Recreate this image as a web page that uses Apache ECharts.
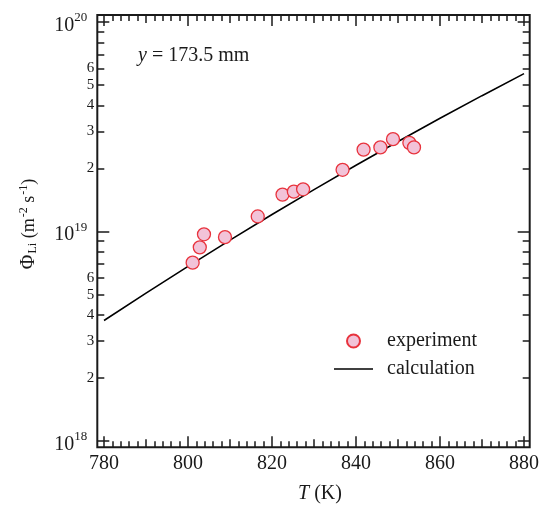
<!DOCTYPE html>
<html>
<head>
<meta charset="utf-8">
<script src="https://cdn.jsdelivr.net/npm/echarts@6/dist/echarts.min.js"></script>
<style>
  html, body { margin: 0; padding: 0; background: #ffffff; }
  #chart { width: 539px; height: 506px; }
</style>
</head>
<body>
<div id="chart"></div>
<script>
// Measured Li flux versus temperature
const expT = [801.1, 802.8, 803.8, 808.8, 816.6, 822.5, 825.2, 827.4, 836.8, 841.8, 845.8, 848.8, 852.7, 853.8];
const expFlux = [7.1e18, 8.4e18, 9.7e18, 9.4e18, 1.18e19, 1.50e19, 1.55e19, 1.59e19, 1.97e19, 2.46e19, 2.52e19, 2.76e19, 2.65e19, 2.52e19];

// Calculated Li flux
const calcT = [780, 790, 800, 810, 820, 830, 840, 850, 860, 870, 880];
const calcFlux = [3.76e18, 5.08e18, 6.82e18, 9.10e18, 1.205e19, 1.585e19, 2.07e19, 2.69e19, 3.47e19, 4.45e19, 5.67e19];

// Axis ticks and labels
const xTickLabels = [780, 800, 820, 840, 860, 880];
const yDecades = [18, 19, 20];
const yLabeledMantissas = [2, 3, 4, 5, 6];
const yMinorMantissas = [2, 3, 4, 5, 6, 7, 8, 9];

const seriesNames = ['experiment', 'calculation'];

const X_MIN = 778.4, X_MAX = 881.35;
const Y_MIN = Math.pow(10, 17.970), Y_MAX = Math.pow(10, 20.0334);

const FONT = "'Liberation Serif', 'Times New Roman', serif";
const INK = '#1a1a1a';

// tick positions for the three x tick levels
const xMajor = xTickLabels.slice();
const xMedium = xTickLabels.slice(0, -1).map(v => v + 10);
const xMinor = [];
for (let t = xTickLabels[0]; t <= xTickLabels[xTickLabels.length - 1]; t += 2) {
  if (t % 10 !== 0) xMinor.push(t);
}
// log axis tick positions
const yMajor = yDecades.map(d => Math.pow(10, d));
const yMinor = [];
const yLabelVals = yMajor.slice();
yDecades.slice(0, -1).forEach(d => {
  yMinorMantissas.forEach(m => yMinor.push(m * Math.pow(10, d)));
  yLabeledMantissas.forEach(m => yLabelVals.push(m * Math.pow(10, d)));
});

function yLabel(v) {
  const e = Math.floor(Math.log10(v) + 1e-9);
  const m = Math.round(v / Math.pow(10, e));
  if (m === 1) return '{b|10}{s|' + e + '}';
  return '{m|' + m + '}';
}

const gridBox = { left: 97.3, right: 9.3, top: 15, bottom: 58.7, outerBoundsMode: 'none' };

function xAxisDef(grid, pos, ticks, len, labels) {
  return {
    type: 'value', gridIndex: grid, position: pos, min: X_MIN, max: X_MAX,
    axisLine: { show: false }, splitLine: { show: false },
    axisTick: { show: true, inside: true, length: len, customValues: ticks,
      lineStyle: { color: INK, width: 1.5 } },
    axisLabel: labels ? {
      show: true, customValues: labels, margin: 6, color: INK,
      fontFamily: FONT, fontSize: 20
    } : { show: false }
  };
}

function yAxisDef(grid, pos, ticks, len, labels) {
  return {
    type: 'log', logBase: 10, gridIndex: grid, position: pos, min: Y_MIN, max: Y_MAX,
    axisLine: { show: false }, splitLine: { show: false }, minorTick: { show: false },
    axisTick: ticks ? { show: true, inside: true, length: len, customValues: ticks,
      lineStyle: { color: INK, width: 1.5 } } : { show: false },
    axisLabel: labels ? {
      show: true, customValues: labels, margin: 3, color: INK,
      formatter: yLabel,
      rich: {
        b: { fontFamily: FONT, fontSize: 20, color: INK, padding: [7, 0, 0, 0], verticalAlign: 'middle' },
        s: { fontFamily: FONT, fontSize: 13, color: INK, padding: [0, 7, 8, 0], verticalAlign: 'middle' },
        m: { fontFamily: FONT, fontSize: 15, color: INK, verticalAlign: 'middle' }
      }
    } : { show: false }
  };
}

const chart = echarts.init(document.getElementById('chart'), null, { renderer: 'canvas' });

chart.setOption({
  animation: false,
  backgroundColor: '#ffffff',
  grid: [
    Object.assign({ show: true, borderColor: INK, borderWidth: 2, backgroundColor: 'transparent' }, gridBox),
    Object.assign({ show: false }, gridBox),
    Object.assign({ show: false }, gridBox)
  ],
  xAxis: [
    xAxisDef(0, 'bottom', xMajor, 11, xTickLabels),
    xAxisDef(0, 'top', xMajor, 11, null),
    xAxisDef(1, 'bottom', xMedium, 8, null),
    xAxisDef(1, 'top', xMedium, 8, null),
    xAxisDef(2, 'bottom', xMinor, 6, null),
    xAxisDef(2, 'top', xMinor, 6, null)
  ],
  yAxis: [
    yAxisDef(0, 'left', yMajor, 12, yLabelVals),
    yAxisDef(0, 'right', yMajor, 12, null),
    yAxisDef(1, 'left', yMinor, 7, null),
    yAxisDef(1, 'right', yMinor, 7, null),
    yAxisDef(2, 'left', null, 0, null),
    yAxisDef(2, 'right', null, 0, null)
  ],
  legend: {
    orient: 'vertical', left: 334, top: 331, padding: 0,
    itemWidth: 39, itemHeight: 13, itemGap: 8,
    symbolKeepAspect: true,
    data: [
      { name: seriesNames[0], icon: 'circle' },
      { name: seriesNames[1], icon: 'path://M0,0 L39,0 L39,1.6 L0,1.6 Z' }
    ],
    formatter: name => '{t|' + name + '}',
    textStyle: {
      color: INK, fontFamily: FONT, fontSize: 20,
      rich: { t: { fontFamily: FONT, fontSize: 20, color: INK, lineHeight: 20, padding: [0, 0, 0, 9] } }
    }
  },
  graphic: [
    {
      type: 'text', left: 138, top: 46, z: 10,
      style: {
        text: '{i|y} = 173.5 mm',
        fill: INK, font: '20px ' + FONT,
        rich: {
          i: { fontFamily: FONT, fontSize: 20, fontStyle: 'italic', fill: INK }
        }
      }
    },
    {
      type: 'text', x: 29, y: 224, rotation: Math.PI / 2, z: 10,
      style: {
        text: '{p|Φ}{sub|Li} (m{sup|-2} s{sup|-1})',
        align: 'center', verticalAlign: 'middle',
        fill: INK, font: '18px ' + FONT,
        rich: {
          p: { fontFamily: FONT, fontSize: 20, fill: INK, verticalAlign: 'middle' },
          sub: { fontFamily: FONT, fontSize: 12, fill: INK, padding: [8, 0, 0, 1], verticalAlign: 'middle' },
          sup: { fontFamily: FONT, fontSize: 12, fill: INK, padding: [0, 0, 10, 1], verticalAlign: 'middle' }
        }
      }
    },
    {
      type: 'text', x: 320, y: 494, z: 10,
      style: {
        text: '{i|T} (K)',
        align: 'center', verticalAlign: 'middle',
        fill: INK, font: '20px ' + FONT,
        rich: {
          i: { fontFamily: FONT, fontSize: 20, fontStyle: 'italic', fill: INK }
        }
      }
    }
  ],
  series: [
    {
      name: seriesNames[0], type: 'scatter', xAxisIndex: 0, yAxisIndex: 0,
      symbol: 'circle', symbolSize: 13, z: 4,
      itemStyle: { color: '#f2c3d8', borderColor: '#e8333d', borderWidth: 1.3, opacity: 1 },
      data: expT.map((t, i) => [t, expFlux[i]])
    },
    {
      name: seriesNames[1], type: 'line', xAxisIndex: 0, yAxisIndex: 0,
      symbol: 'none', showSymbol: false, z: 3,
      lineStyle: { color: '#000000', width: 1.6 },
      itemStyle: { color: '#000000' },
      data: calcT.map((t, i) => [t, calcFlux[i]])
    }
  ]
});
</script>
</body>
</html>
